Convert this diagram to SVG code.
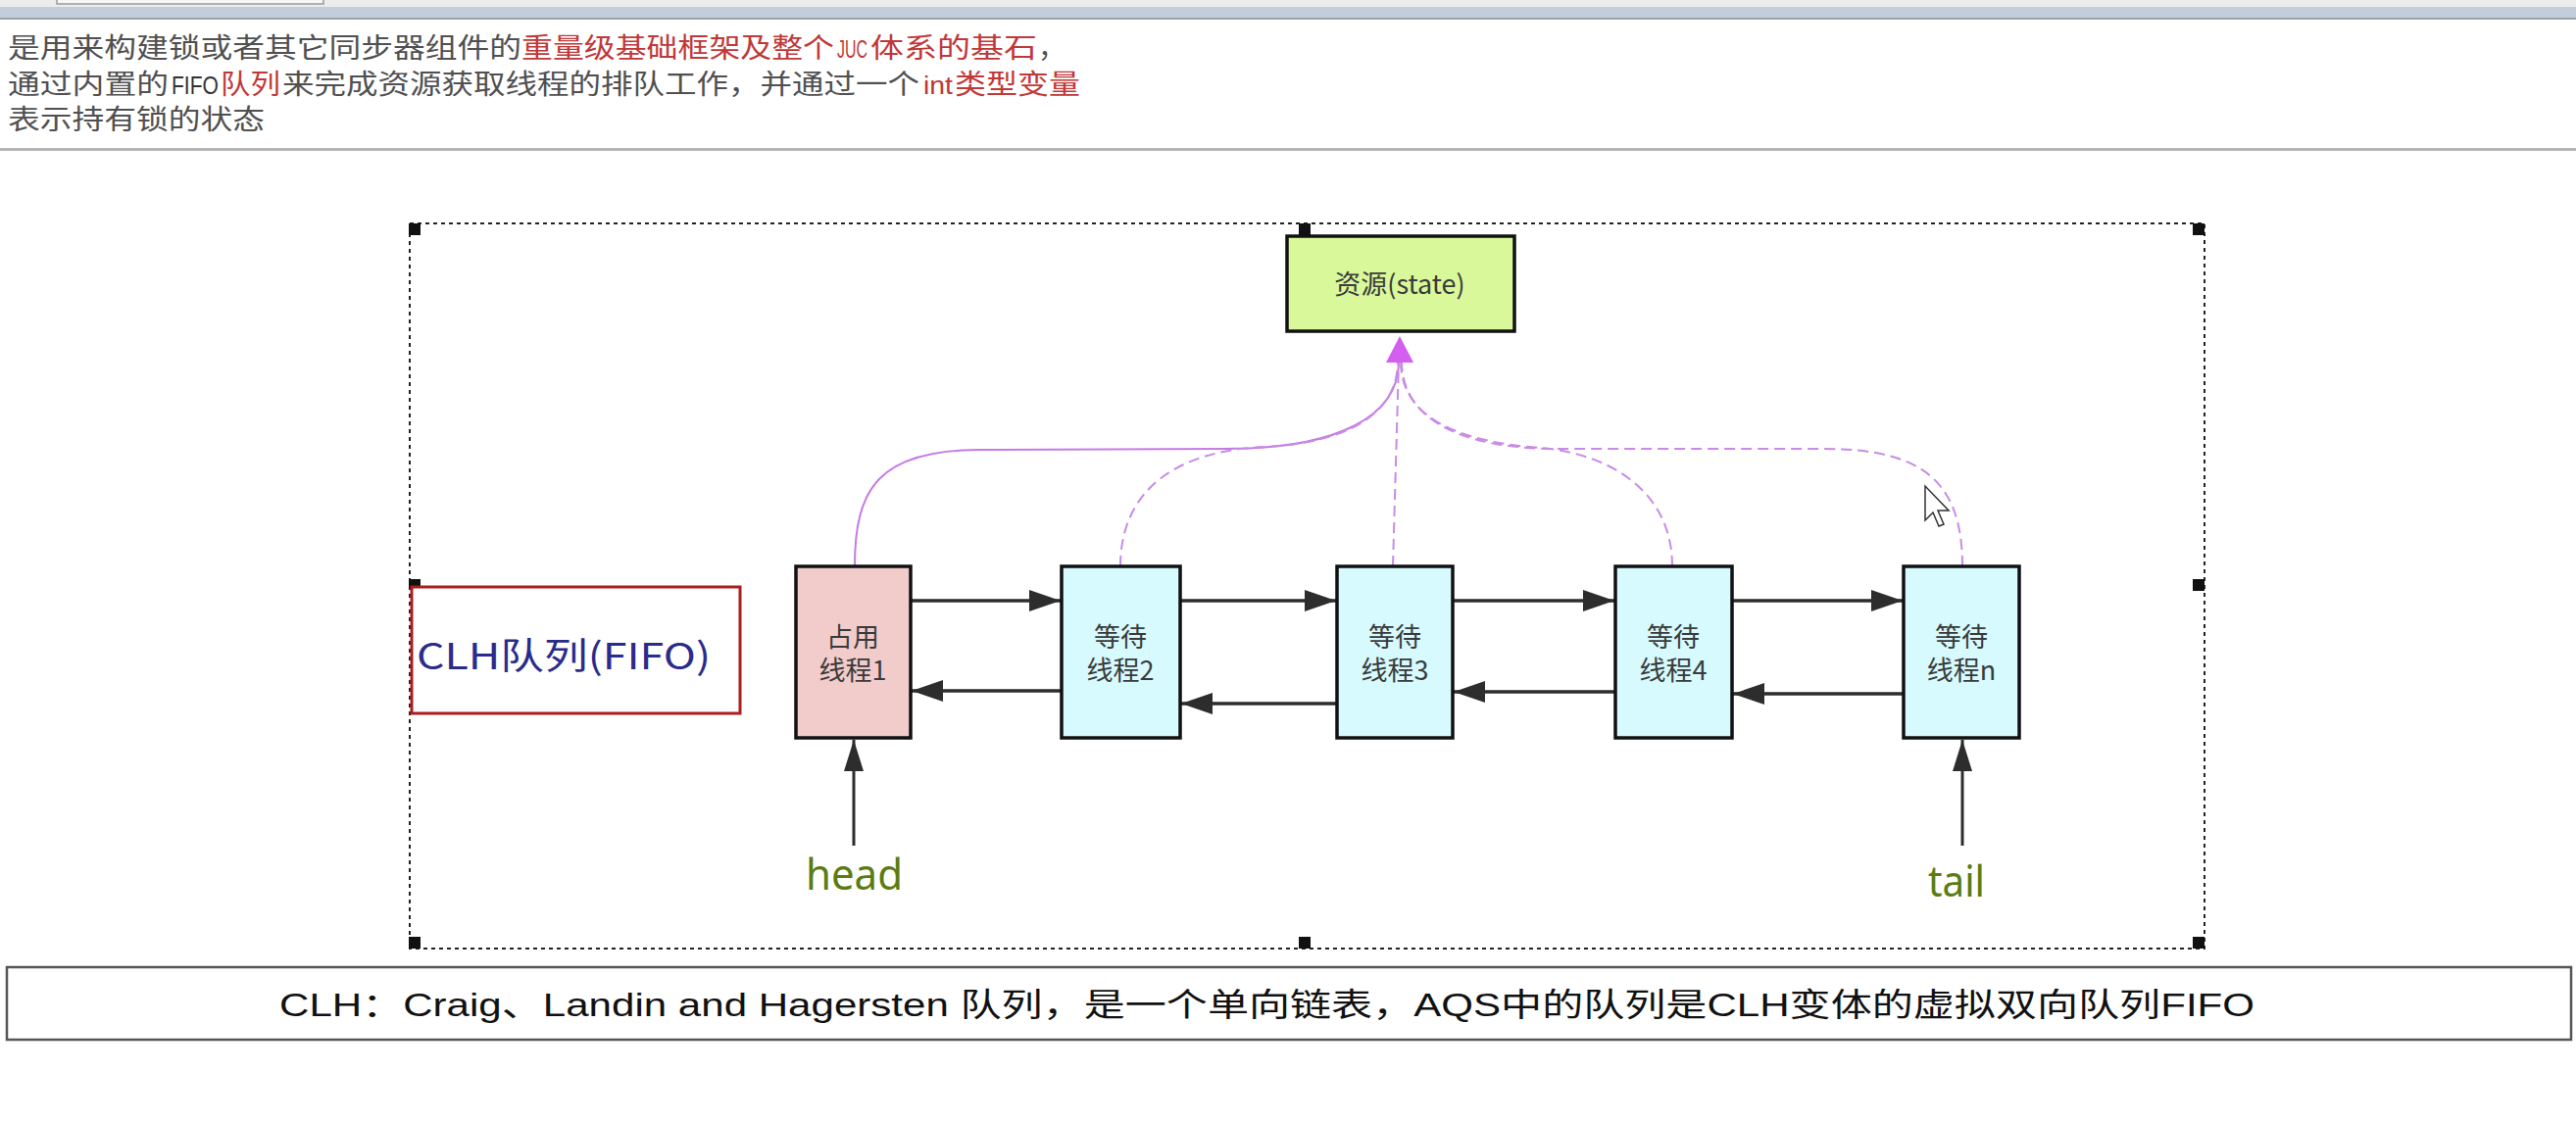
<svg xmlns="http://www.w3.org/2000/svg" width="2628" height="1144" viewBox="0 0 2628 1144">
<style>
.top{font-family:"Noto Sans CJK SC",sans-serif;font-size:28px;fill:#505050;}
.red{fill:#c03838;}
.lat{font-family:"Liberation Sans","Noto Sans",sans-serif;font-size:25px;}
.node{stroke:#111;stroke-width:3.5;}
.ntext{font-family:"Noto Sans CJK SC","Noto Sans",sans-serif;font-size:27px;fill:#3a3a3a;text-anchor:middle;}
.arr{stroke:#2d2d2d;stroke-width:3.5;fill:none;marker-end:url(#ah);}
.ptr{stroke:#2d2d2d;stroke-width:3;fill:none;marker-end:url(#ah2);}
.pl{stroke:#c47be4;stroke-width:2;fill:none;}
.pd{stroke:#c98ae6;stroke-width:2;fill:none;stroke-dasharray:11 6;}
.hd{fill:#111;}
.lbl{font-family:"Noto Sans","Open Sans",sans-serif;font-size:44px;fill:#5a7c12;}
</style>
<defs>
<marker id="ah" markerUnits="userSpaceOnUse" markerWidth="34" markerHeight="24" refX="32" refY="11" orient="auto"><path d="M0,0 L32,11 L0,22 z" fill="#2d2d2d"/></marker>
<marker id="ah2" markerUnits="userSpaceOnUse" markerWidth="34" markerHeight="22" refX="32" refY="10" orient="auto"><path d="M0,0 L32,10 L0,20 z" fill="#2d2d2d"/></marker>
</defs>
<rect width="2628" height="1144" fill="#ffffff"/>

<!-- header -->
<g id="header">
<rect x="0" y="0" width="2628" height="7" fill="#ececec"/>
<rect x="58" y="-3" width="272" height="7" fill="#f6f6f6" stroke="#9a9a9a" stroke-width="1.5"/>
<rect x="0" y="7" width="2628" height="12" fill="#c4cedb"/>
<rect x="0" y="18" width="2628" height="2" fill="#9aa3ad"/>
<rect x="0" y="151" width="2628" height="3" fill="#b4b4b4"/>
<text class="top" y="59"><tspan x="8" textLength="524" lengthAdjust="spacingAndGlyphs">是用来构建锁或者其它同步器组件的</tspan><tspan class="red" x="532" textLength="319" lengthAdjust="spacingAndGlyphs">重量级基础框架及整个</tspan><tspan class="lat red" x="854" textLength="31" lengthAdjust="spacingAndGlyphs">JUC</tspan><tspan class="red" x="888" textLength="170" lengthAdjust="spacingAndGlyphs">体系的基石</tspan><tspan x="1059">，</tspan></text>
<text class="top" y="96"><tspan x="8" textLength="164" lengthAdjust="spacingAndGlyphs">通过内置的</tspan><tspan class="lat" x="175" fill="#333" textLength="48" lengthAdjust="spacingAndGlyphs">FIFO</tspan><tspan class="red" x="225" textLength="61" lengthAdjust="spacingAndGlyphs">队列</tspan><tspan x="288" textLength="650" lengthAdjust="spacingAndGlyphs">来完成资源获取线程的排队工作，并通过一个</tspan><tspan class="lat red" x="942" textLength="30" lengthAdjust="spacingAndGlyphs">int</tspan><tspan class="red" x="974" textLength="128" lengthAdjust="spacingAndGlyphs">类型变量</tspan></text>
<text class="top" y="132"><tspan x="8" textLength="262" lengthAdjust="spacingAndGlyphs">表示持有锁的状态</tspan></text>
</g>

<!-- selection frame -->
<g id="frame">
<rect x="418" y="228" width="1831" height="740" fill="none" stroke="#222" stroke-width="2" stroke-dasharray="4 4"/>
<rect class="hd" x="417" y="228" width="12" height="12"/>
<rect class="hd" x="1325" y="228" width="12" height="12"/>
<rect class="hd" x="2237" y="228" width="12" height="12"/>
<rect class="hd" x="417" y="591" width="12" height="10"/>
<rect class="hd" x="2237" y="591" width="12" height="12"/>
<rect class="hd" x="417" y="956" width="12" height="12"/>
<rect class="hd" x="1325" y="956" width="12" height="12"/>
<rect class="hd" x="2237" y="956" width="12" height="12"/>
</g>

<!-- connectors -->
<g id="connectors">
<path class="pl" d="M 872 578 C 872 500, 895 459, 1000 459 L 1250 458 C 1365 458, 1427 425, 1427 369"/>
<path class="pd" d="M 1143 578 C 1143 500, 1200 460, 1290 456 C 1375 452, 1426 422, 1426 369"/>
<path class="pd" d="M 1421 578 L 1427 369"/>
<path class="pd" d="M 1706 578 C 1706 500, 1640 462, 1570 457 C 1480 450, 1429 422, 1429 369"/>
<path class="pd" d="M 2002 578 C 2002 490, 1960 458, 1860 458 L 1590 458 C 1480 458, 1430 422, 1430 369"/>
<polygon points="1428,343 1414,370 1442,370" fill="#d35ff0"/>

<path class="arr" d="M 930 613 L 1082 613"/>
<path class="arr" d="M 1205 613 L 1363 613"/>
<path class="arr" d="M 1483 613 L 1647 613"/>
<path class="arr" d="M 1768 613 L 1941 613"/>

<path class="arr" d="M 1082 705 L 930 705"/>
<path class="arr" d="M 1363 718 L 1205 718"/>
<path class="arr" d="M 1647 706 L 1483 706"/>
<path class="arr" d="M 1941 708 L 1768 708"/>

<path class="ptr" d="M 871 863 L 871 755"/>
<path class="ptr" d="M 2002 863 L 2002 755"/>
</g>

<!-- nodes -->
<g id="state">
<rect class="node" x="1313" y="241" width="232" height="97" fill="#d8f89a"/>
<text class="ntext" x="1428" y="300" font-size="29" fill="#3d4a22">资源(state)</text>
</g>
<g id="clh">
<rect x="420" y="599" width="335" height="129" fill="#ffffff" stroke="#b01c1c" stroke-width="3"/>
<text x="425" y="683" font-family="Noto Sans CJK SC, Noto Sans, sans-serif" font-size="37" fill="#2b2b8c" textLength="300" lengthAdjust="spacingAndGlyphs">CLH队列(FIFO)</text>
</g>
<g id="node1">
<rect class="node" x="812" y="578" width="117" height="175" fill="#f1cccb"/>
<text class="ntext" x="870" y="660">占用<tspan x="870" y="694">线程1</tspan></text>
</g>
<g id="node2">
<rect class="node" x="1083" y="578" width="121" height="175" fill="#d6fafd"/>
<text class="ntext" x="1143" y="660">等待<tspan x="1143" y="694">线程2</tspan></text>
</g>
<g id="node3">
<rect class="node" x="1364" y="578" width="118" height="175" fill="#d6fafd"/>
<text class="ntext" x="1423" y="660">等待<tspan x="1423" y="694">线程3</tspan></text>
</g>
<g id="node4">
<rect class="node" x="1648" y="578" width="119" height="175" fill="#d6fafd"/>
<text class="ntext" x="1707" y="660">等待<tspan x="1707" y="694">线程4</tspan></text>
</g>
<g id="noden">
<rect class="node" x="1942" y="578" width="118" height="175" fill="#d6fafd"/>
<text class="ntext" x="2001" y="660">等待<tspan x="2001" y="694">线程n</tspan></text>
</g>
<g id="head">
<text class="lbl" x="822" y="908" textLength="99" lengthAdjust="spacingAndGlyphs">head</text>
</g>
<g id="tail">
<text class="lbl" x="1967" y="915" textLength="58" lengthAdjust="spacingAndGlyphs">tail</text>
</g>

<!-- cursor -->
<polygon points="1964,496 1964,531 1972,523 1978,537 1983,535 1977,521 1988,521" fill="#ffffff" stroke="#333" stroke-width="1.5"/>

<!-- caption -->
<g id="caption">
<rect x="7" y="987" width="2616" height="74" fill="#ffffff" stroke="#555" stroke-width="2.5"/>
<text x="285" y="1037" font-family="Liberation Sans, Noto Sans CJK SC, sans-serif" font-size="33" fill="#111" textLength="2015" lengthAdjust="spacingAndGlyphs">CLH：Craig、Landin and Hagersten 队列，是一个单向链表，AQS中的队列是CLH变体的虚拟双向队列FIFO</text>
</g>
</svg>
